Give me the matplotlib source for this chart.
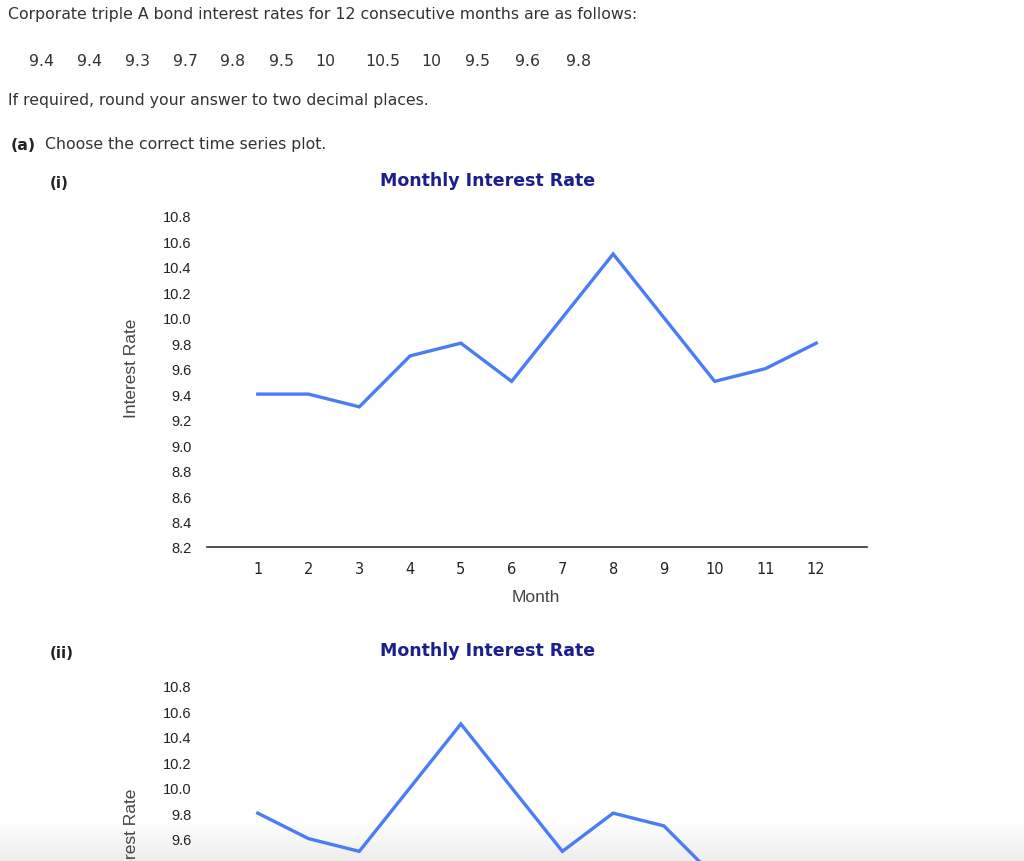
import numpy as np
import matplotlib
matplotlib.use('Agg')
import matplotlib.pyplot as plt

# data from the question
rates = [9.4, 9.4, 9.3, 9.7, 9.8, 9.5, 10, 10.5, 10, 9.5, 9.6, 9.8]
rate_labels = ['9.4', '9.4', '9.3', '9.7', '9.8', '9.5', '10', '10.5', '10', '9.5', '9.6', '9.8']
months = list(range(1, 13))
# option (ii) shows the series backwards
rates_ii = rates[::-1]
y_ticks = [8.2, 8.4, 8.6, 8.8, 9.0, 9.2, 9.4, 9.6, 9.8, 10.0, 10.2, 10.4, 10.6, 10.8]

W, H = 1024, 862
TEXT = '#333333'
NAVY = '#1a1f8c'
BLUE = '#4a7df5'

fig = plt.figure(figsize=(W / 100, H / 100), dpi=100)
fig.patch.set_facecolor('white')


def put(x, y, s, **kw):
    # x, y in pixels from the top left corner
    kw.setdefault('color', TEXT)
    kw.setdefault('family', 'DejaVu Sans')
    kw.setdefault('va', 'center')
    return fig.text(x / W, 1 - y / H, s, **kw)


# faint grey fade along the bottom edge of the screenshot (drawn under everything)
fade = fig.add_axes([0, 0, 1, 40 / H], zorder=-5)
ramp = np.linspace(0, 1, 60)
rgba = np.zeros((60, 1, 4))
rgba[..., :3] = 0.93
rgba[:, 0, 3] = ramp
fade.imshow(rgba, aspect='auto', extent=[0, 1, 0, 1], origin='upper')
fade.axis('off')

put(8, 15, 'Corporate triple A bond interest rates for 12 consecutive months are as follows:', fontsize=11.3)
num_x = [41, 89, 137, 185, 233, 282, 325, 383, 431, 478, 528, 579]
for xx, lab in zip(num_x, rate_labels):
    put(xx, 62, lab, fontsize=11.3, ha='center')
put(8, 100, 'If required, round your answer to two decimal places.', fontsize=11.3)
put(11, 145, '(a)', fontsize=11.3, weight='bold', color='#222222')
put(45, 145, 'Choose the correct time series plot.', fontsize=11.3)


def time_plot(top, label, values, show_x=True, ymin_label=8.2):
    # top = pixel row of the chart title
    put(50, top + 2, label, fontsize=11, weight='bold', color='#222222')
    put(488, top, 'Monthly Interest Rate', fontsize=12.5, weight='bold', color=NAVY, ha='center')
    ax_top = top + 23
    ax_bot = top + 367
    ax = fig.add_axes([207 / W, 1 - ax_bot / H, 660 / W, (ax_bot - ax_top) / H])
    ax.plot(months, values, color=BLUE, lw=2.4, solid_joinstyle='miter')
    ax.set_xlim(0, 13)
    ax.set_ylim(8.2, 10.9)
    ax.set_xticks(months)
    shown = [t for t in y_ticks if t >= ymin_label - 1e-9]
    ax.set_yticks(shown)
    ax.set_yticklabels(['%.1f' % t for t in shown], family='Liberation Sans', fontsize=10.5, color='#222222')
    if show_x:
        ax.set_xticklabels([str(m) for m in months], family='DejaVu Sans', fontsize=10.5, color='#222222')
        put(536, top + 417, 'Month', fontsize=12.5, ha='center', family='Liberation Sans', color='#444444')
    else:
        ax.set_xticklabels([])
    ax.tick_params(axis='both', length=0)
    ax.tick_params(axis='y', pad=11)
    ax.tick_params(axis='x', pad=10)
    for side in ['top', 'right', 'left']:
        ax.spines[side].set_visible(False)
    ax.spines['bottom'].set_color('#333333')
    ax.spines['bottom'].set_linewidth(1.2)
    ax.set_facecolor('none')
    put(131, top + 187, 'Interest Rate', fontsize=12.5, rotation=90, ha='center',
        family='Liberation Sans', color='#444444')
    return ax


time_plot(181, '(i)', rates)
# the second plot runs off the bottom of the screenshot
time_plot(651, '(ii)', rates_ii, show_x=False, ymin_label=9.4)

fig.savefig('out.png', dpi=100, facecolor='white')
